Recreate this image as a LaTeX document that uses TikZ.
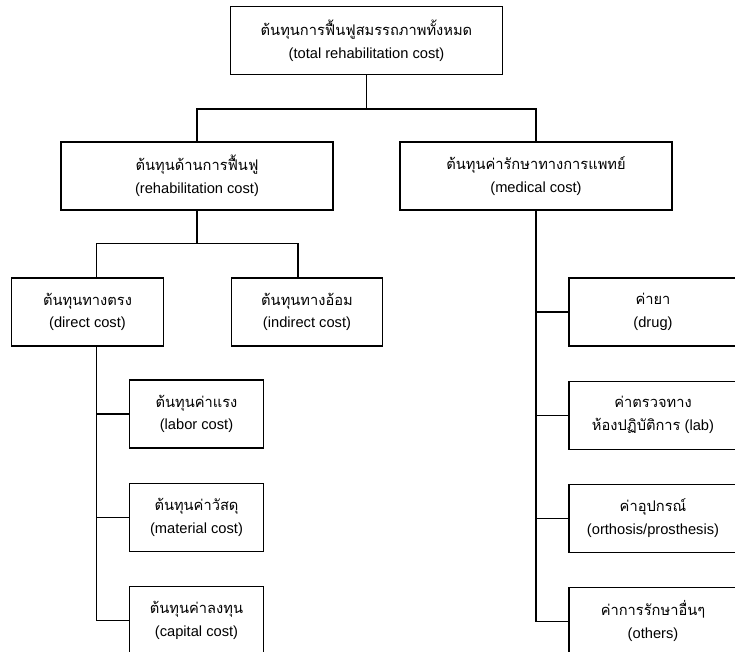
\documentclass[tikz,border=0pt]{standalone}
\usepackage{fontspec}
\setmainfont{Liberation Sans}
\newfontfamily\thaifont[Script=Thai]{Loma}
\usetikzlibrary{positioning}
\tikzset{%
  box/.style={draw, rectangle, align=center, inner sep=0mm, minimum height=51pt,
    line width=0.8pt, font=\fontsize{11}{17}\selectfont},
  wide/.style={box, minimum width=204pt},
  mid/.style={box, minimum width=113.5pt},
  small/.style={box, minimum width=101pt},
  side/.style={box, minimum width=126pt},
  edge/.style={line width=0.8pt},
}
\begin{document}
\begin{tikzpicture}[x=0.75pt, y=-0.75pt]
  \useasboundingbox (0,0) rectangle (735,652);

  \node[wide] (total) at (366.5,40.5) {{\thaifont ต้นทุนการฟื้นฟูสมรรถภาพทั้งหมด}\\(total rehabilitation cost)};
  \node[wide] (rehab) at (197,176) {{\thaifont ต้นทุนด้านการฟื้นฟู}\\(rehabilitation cost)};
  \node[wide] (medical) at (536,176) {{\thaifont ต้นทุนค่ารักษาทางการแพทย์}\\(medical cost)};

  \node[mid] (direct) at (87.5,312) {{\thaifont ต้นทุนทางตรง}\\(direct cost)};
  \node[mid] (indirect) at (307,312) {{\thaifont ต้นทุนทางอ้อม}\\(indirect cost)};

  \node[small] (labor) at (196.5,414) {{\thaifont ต้นทุนค่าแรง}\\(labor cost)};
  \node[small,below=25.5pt of labor] (material) {{\thaifont ต้นทุนค่าวัสดุ}\\(material cost)};
  \node[small,below=25.5pt of material] (capital) {{\thaifont ต้นทุนค่าลงทุน}\\(capital cost)};

  \node[side] (drug) at (653,312) {{\thaifont ค่ายา}\\(drug)};
  \node[side,below=25.5pt of drug] (lab) {{\thaifont ค่าตรวจทาง}\\{\thaifont ห้องปฏิบัติการ} (lab)};
  \node[side,below=25.5pt of lab] (ortho) {{\thaifont ค่าอุปกรณ์}\\(orthosis/prosthesis)};
  \node[side,below=25.5pt of ortho] (other) {{\thaifont ค่าการรักษาอื่นๆ}\\(others)};

  \draw[edge] (total.south) -- ++(0,34) -| (rehab.north);
  \draw[edge] (total.south) ++(0,34) -| (medical.north);

  \coordinate (dtop) at ([xshift=6.4pt]direct.north);
  \coordinate (itop) at ([xshift=-6.75pt]indirect.north);
  \draw[edge] (rehab.south) -- ++(0,33) -| (dtop);
  \draw[edge] (rehab.south) ++(0,33) -| (itop);

  \coordinate (dbot) at ([xshift=6.4pt]direct.south);
  \draw[edge] (dbot) |- (labor.west);
  \draw[edge] (dbot) |- (material.west);
  \draw[edge] (dbot) |- (capital.west);

  \draw[edge] (medical.south) |- (drug.west);
  \draw[edge] (medical.south) |- (lab.west);
  \draw[edge] (medical.south) |- (ortho.west);
  \draw[edge] (medical.south) |- (other.west);
\end{tikzpicture}
\end{document}
